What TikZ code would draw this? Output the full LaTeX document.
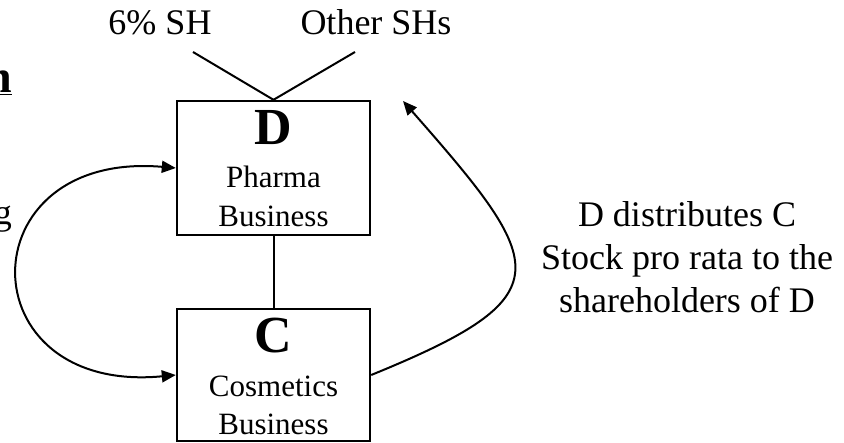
\documentclass[tikz,border=0pt]{standalone}
\usepackage{fontspec}
\setmainfont{Liberation Serif}
\usetikzlibrary{arrows.meta,calc}

\begin{document}
\begin{tikzpicture}[x=1pt,y=-1pt,
  box/.style={draw, line width=2.4pt, minimum width=193pt, inner sep=0pt},
  txt/.style={inner sep=0pt, anchor=base, font=\fontsize{36}{43}\selectfont},
  boxtxt/.style={inner sep=0pt, anchor=base, font=\fontsize{31}{37}\selectfont},
  big/.style={inner sep=0pt, anchor=base, font=\fontsize{52}{60}\selectfont\bfseries},
  conn/.style={line width=2pt},
  tip/.style={line width=2pt, -{Triangle[length=14pt,width=12pt]}},
  both/.style={line width=2pt, {Triangle[length=14pt,width=12pt]}-{Triangle[length=14pt,width=12pt]}}
]
\useasboundingbox (0,0) rectangle (844,443);

% partial text at the left edge
\node[inner sep=0pt, anchor=base east, font=\fontsize{46}{52}\selectfont\bfseries] (ttl) at (12,93) {\underline{n}};
\node[txt, anchor=base east] (lft) at (12,225) {g};

% shareholders
\node[txt] (sh6) at (160,35) {6\% SH};
\node[txt] (shoth) at (376,35) {Other SHs};
\coordinate (sh6end) at (193,52);
\coordinate (shothend) at (355,52);

% corporations
\node[box, minimum height=134pt] (dbox) at (273.5,168) {};
\node[box, minimum height=132pt] (cbox) at (273.5,375) {};

\node[big] (dlbl) at (273.5,145) {D};
\node[boxtxt] (dl1) at (273.5,188) {Pharma};
\node[boxtxt] (dl2) at (273.5,227) {Business};

\node[big] (clbl) at (273.5,353) {C};
\node[boxtxt] (cl1) at (273.5,397) {Cosmetics};
\node[boxtxt] (cl2) at (273.5,435) {Business};

% ownership lines
\draw[conn] (sh6end) -- (dbox.north) -- (shothend);
\draw[conn] (dbox.south) -- (cbox.north);

% swap of businesses
\draw[both] (dbox.west) .. controls (-34,150) and (-34,395) .. (cbox.west);

% distribution
\coordinate (distend) at (403,101);
\draw[tip] (cbox.east) .. controls (565,296) and (548,266) .. (distend);

\node[txt] (r1) at (687,227) {D distributes C};
\node[txt] (r2) at (687,270) {Stock pro rata to the};
\node[txt] (r3) at (687,313) {shareholders of D};
\end{tikzpicture}
\end{document}
